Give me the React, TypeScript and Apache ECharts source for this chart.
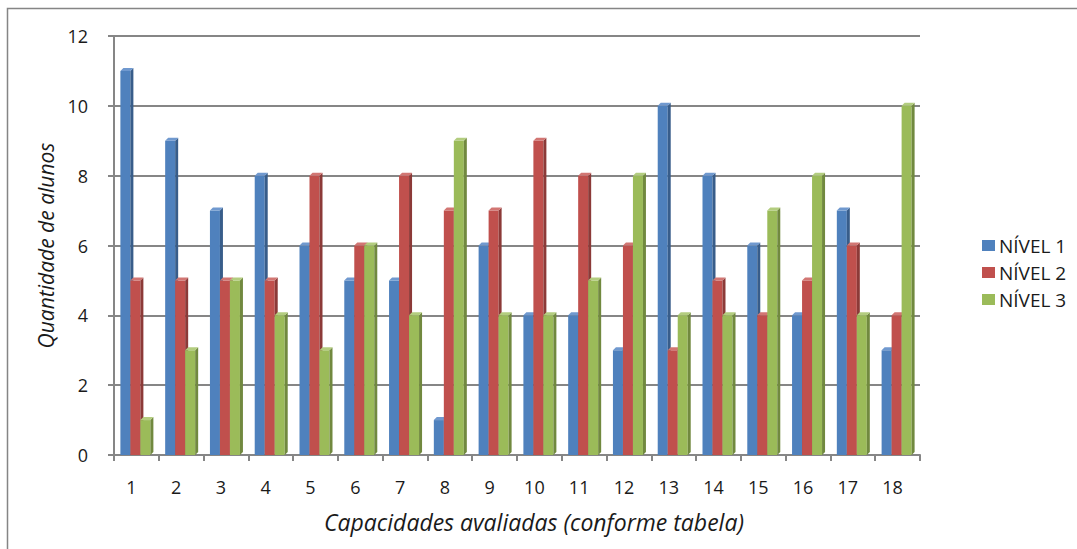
import React, { useEffect, useRef } from "react";
import * as echarts from "echarts";

const categories = ["1","2","3","4","5","6","7","8","9","10","11","12","13","14","15","16","17","18"];
const nivel1 = [11, 9, 7, 8, 6, 5, 5, 1, 6, 4, 4, 3, 10, 8, 6, 4, 7, 3];
const nivel2 = [5, 5, 5, 5, 8, 6, 8, 7, 7, 9, 8, 6, 3, 5, 4, 5, 6, 4];
const nivel3 = [1, 3, 5, 4, 3, 6, 4, 9, 4, 4, 5, 8, 4, 4, 7, 8, 4, 10];
const seriesNames = ["NÍVEL 1", "NÍVEL 2", "NÍVEL 3"];
const yTicks = [0, 2, 4, 6, 8, 10, 12];

const palette = [
  { main: "#4F81BD", side: "#385D8A", top: "#7099CF" },
  { main: "#C0504D", side: "#8C3A38", top: "#D27673" },
  { main: "#9BBB59", side: "#71893F", top: "#B3CD7F" },
];

const FONT = "'Open Sans', 'Noto Sans', sans-serif";

export default function App() {
  const ref = useRef<HTMLDivElement>(null);
  useEffect(() => {
    if (!ref.current) return;
    const chart = echarts.init(ref.current, null, { renderer: "svg" });
    const all = [nivel1, nivel2, nivel3];
    const makeRender = (si: number) => (params: any, api: any) => {
      const idx = api.value(0);
      const v = api.value(1);
      const base = api.coord([idx, 0]);
      const top = api.coord([idx, v]);
      const w = 10, dx = 3, dy = 3;
      const x = base[0] - 16 + si * 10;
      const yT = top[1], yB = base[1];
      const c = palette[si];
      return {
        type: "group",
        children: [
          { type: "rect", shape: { x, y: yT, width: w, height: yB - yT }, style: { fill: c.main } },
          { type: "polygon", shape: { points: [[x + w, yT], [x + w + dx, yT - dy], [x + w + dx, yB - dy], [x + w, yB]] }, style: { fill: c.side } },
          { type: "polygon", shape: { points: [[x, yT], [x + dx, yT - dy], [x + w + dx, yT - dy], [x + w, yT]] }, style: { fill: c.top } },
        ],
      };
    };
    chart.setOption({
      animation: false,
      backgroundColor: "#ffffff",
      textStyle: { fontFamily: FONT },
      graphic: [
        {
          type: "rect",
          shape: { x: 7.5, y: 8.5, width: 1200, height: 700 },
          style: { fill: "none", stroke: "#858585", lineWidth: 1.5 },
          silent: true,
        },
      ],
      legend: {
        orient: "vertical",
        left: 977,
        top: 231,
        itemWidth: 13,
        itemHeight: 11,
        itemGap: 8,
        icon: "rect",
        data: seriesNames,
        textStyle: { fontSize: 19, color: "#1a1a1a", fontFamily: FONT, padding: [0, 0, 0, -1] },
      },
      grid: { left: 114, right: 1077 - 920, top: 36, bottom: 549 - 455 },
      xAxis: {
        type: "category",
        data: categories,
        boundaryGap: true,
        name: "Capacidades avaliadas (conforme tabela)",
        nameLocation: "middle",
        nameGap: 55,
        nameTextStyle: { fontSize: 23, fontStyle: "italic", color: "#1a1a1a", padding: [0, 0, 0, 34], fontFamily: FONT },
        axisLine: { lineStyle: { color: "#868686", width: 2 } },
        axisTick: { show: true, length: 6, lineStyle: { color: "#868686", width: 2 } },
        axisLabel: { fontSize: 18, color: "#1a1a1a", margin: 23, padding: [0, 10, 0, 0], fontFamily: FONT },
      },
      yAxis: {
        type: "value",
        min: 0,
        max: 12,
        interval: 2,
        name: "Quantidade de alunos",
        nameLocation: "middle",
        nameGap: 55,
        nameTextStyle: { fontSize: 21, fontStyle: "italic", color: "#1a1a1a", fontFamily: FONT },
        axisLine: { show: true, lineStyle: { color: "#868686", width: 2 } },
        axisTick: { show: true, length: 6, lineStyle: { color: "#868686", width: 2 } },
        axisLabel: {
          fontSize: 18,
          color: "#1a1a1a",
          margin: 26,
          fontFamily: FONT,
          formatter: (v: number) => (yTicks.includes(v) ? String(v) : ""),
        },
        splitLine: { lineStyle: { color: "#868686", width: 2 } },
      },
      series: all.map((arr, si) => ({
        name: seriesNames[si],
        type: "custom",
        renderItem: makeRender(si),
        itemStyle: { color: palette[si].main },
        encode: { x: 0, y: 1 },
        data: arr.map((v, i) => [i, v]),
        z: 2 + si,
      })),
    });
    return () => chart.dispose();
  }, []);
  return (
    <div
      ref={ref}
      style={{ position: "fixed", left: 0, top: 0, width: 1077, height: 549 }}
    />
  );
}
